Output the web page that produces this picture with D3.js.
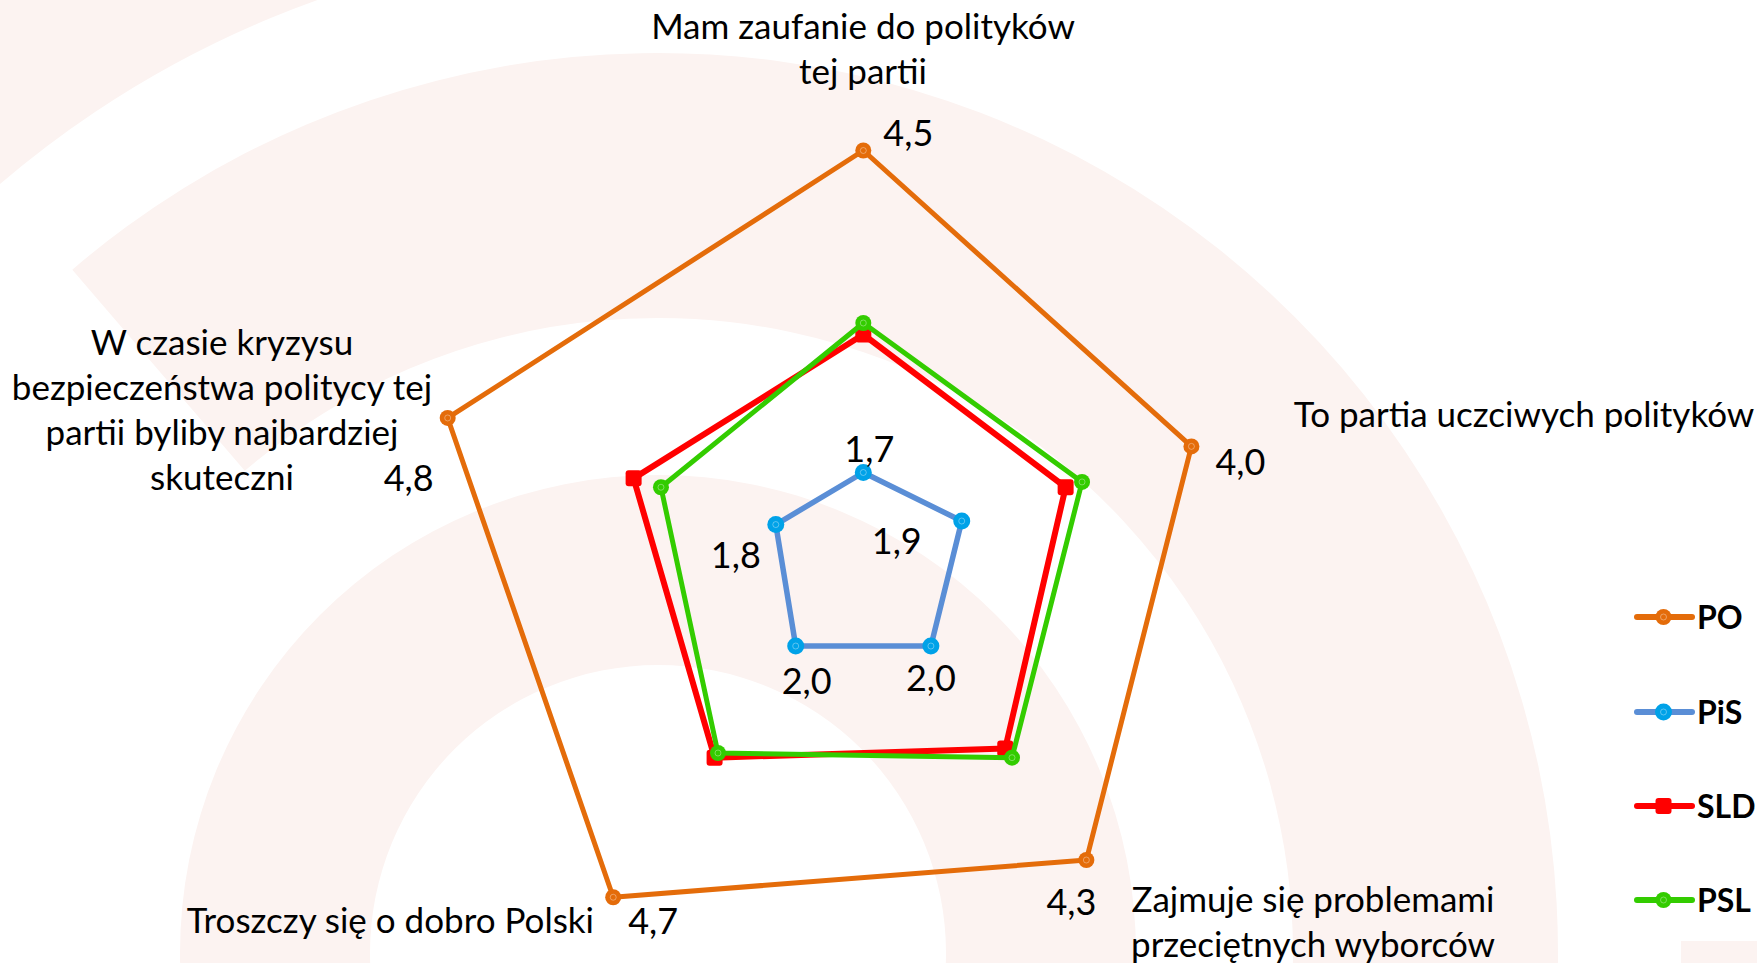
<!DOCTYPE html>
<html>
<head>
<meta charset="utf-8">
<script src="https://cdn.jsdelivr.net/npm/d3@7"></script>
<style>
    html, body { margin: 0; padding: 0; background: #fff; overflow: hidden; }
    svg { display: block; font-family: Lato, 'Open Sans', sans-serif; }
</style>
</head>
<body>
<svg id="chart" width="1757" height="963"></svg>
<script>
'use strict';

// Axes go clockwise from the top
const CATEGORIES = [
    ['Mam zaufanie do polityków', 'tej partii'],
    ['To partia uczciwych polityków'],
    ['Zajmuje się problemami', 'przeciętnych wyborców'],
    ['Troszczy się o dobro Polski'],
    ['W czasie kryzysu', 'bezpieczeństwa politycy tej', 'partii byliby najbardziej', 'skuteczni']
];
const SERIES = ['PO', 'PiS', 'SLD', 'PSL'];
const PO_VALUES = [4.5, 4.0, 4.3, 4.7, 4.8];
const PIS_VALUES = [1.7, 1.9, 2.0, 2.0, 1.8];
const SLD_VALUES = [2.9, 2.85, 3.1, 3.2, 3.1];
const PSL_VALUES = [3.0, 3.0, 3.2, 3.15, 2.85];
const AXIS_DOMAIN = [1, 5];
const LABELLED_SERIES = ['PO', 'PiS'];

const VALUES = {PO: PO_VALUES, PiS: PIS_VALUES, SLD: SLD_VALUES, PSL: PSL_VALUES};

const STYLES = {
    PO:  {line: '#e46c0a', marker: '#e46c0a', width: 5, shape: 'circle', size: 8},
    PiS: {line: '#5a8ed6', marker: '#00a2e8', width: 5.5, shape: 'circle', size: 8.5},
    SLD: {line: '#ff0000', marker: '#ff0000', width: 6, shape: 'square', size: 8},
    PSL: {line: '#33cc00', marker: '#33cc00', width: 5, shape: 'circle', size: 8}
};

const CENTER = {x: 863.3, y: 553};
const RADIUS = 460;
const FONT_SIZE = 35;
const LINE_HEIGHT = 45;

const CATEGORY_LABEL_POS = [
    {x: 863, y: 39, anchor: 'middle'},
    {x: 1524, y: 427, anchor: 'middle'},
    {x: 1313, y: 912, anchor: 'middle'},
    {x: 594, y: 933, anchor: 'end'},
    {x: 222, y: 355, anchor: 'middle'}
];

// label centre offset (dx) and baseline offset (dy) from its point
const VALUE_LABEL_OFFSETS = {
    PO:  [[45, -5], [49, 29], [-15, 55], [40, 37], [-39, 73]],
    PiS: [[6, -11], [-65, 33], [0, 45], [11, 48], [-40, 43]]
};

// pale watermark rings behind the chart
const RING_CENTER = {x: 658, y: 953};
const RINGS = [
    {inner: 1012, outer: 1500, start: -45, end: 0},
    {inner: 635, outer: 900, start: -40.6, end: 100},
    {inner: 288, outer: 478, start: -180, end: 180}
];
const CORNER_PATCH = {x: 1681, y: 941, w: 76, h: 22};

const LEGEND = {x1: 1637, x2: 1692, textX: 1697, ys: [617, 712, 806, 900]};

const plotChart = () => {
    const vis = d3.select('#chart');

    const r = d3.scaleLinear().domain(AXIS_DOMAIN).range([0, RADIUS]);
    const angle = i => i * 2 * Math.PI / CATEGORIES.length;
    const fmt = v => d3.format('.1f')(v).replace('.', ',');
    const rad = deg => deg * Math.PI / 180;

    // background rings
    const ringArc = d3.arc()
        .innerRadius(d => d.inner)
        .outerRadius(d => d.outer)
        .startAngle(d => rad(d.start))
        .endAngle(d => rad(d.end));

    const bg = vis.append('g');
    bg.append('g')
        .attr('transform', `translate(${RING_CENTER.x},${RING_CENTER.y})`)
        .selectAll('path')
        .data(RINGS)
        .enter().append('path')
        .attr('d', ringArc)
        .attr('fill', '#fcf3f1');
    bg.append('rect')
        .attr('x', CORNER_PATCH.x)
        .attr('y', CORNER_PATCH.y)
        .attr('width', CORNER_PATCH.w)
        .attr('height', CORNER_PATCH.h)
        .attr('fill', '#fcf3f1');

    const plot = vis.append('g')
        .attr('transform', `translate(${CENTER.x},${CENTER.y})`);

    const line = d3.lineRadial()
        .angle((d, i) => angle(i))
        .radius(d => r(d))
        .curve(d3.curveLinearClosed);

    const drawMarker = (sel, name, x, y) => {
        const st = STYLES[name];
        if (st.shape === 'square') {
            sel.append('rect')
                .attr('x', x - st.size)
                .attr('y', y - st.size)
                .attr('width', st.size * 2)
                .attr('height', st.size * 2)
                .attr('rx', 3)
                .attr('fill', st.marker);
        } else {
            sel.append('circle')
                .attr('cx', x)
                .attr('cy', y)
                .attr('r', st.size)
                .attr('fill', st.marker);
            sel.append('circle')
                .attr('cx', x)
                .attr('cy', y)
                .attr('r', 3)
                .attr('fill', 'none')
                .attr('stroke', 'rgba(255,255,255,0.35)')
                .attr('stroke-width', 1);
        }
    };

    SERIES.forEach(name => {
        const st = STYLES[name];
        const g = plot.append('g').attr('class', 'series');
        g.append('path')
            .datum(VALUES[name])
            .attr('d', line)
            .attr('fill', 'none')
            .attr('stroke', st.line)
            .attr('stroke-width', st.width)
            .attr('stroke-linejoin', 'round');
        VALUES[name].forEach((v, i) => {
            const [x, y] = d3.pointRadial(angle(i), r(v));
            drawMarker(g, name, x, y);
        });
    });

    // data labels
    LABELLED_SERIES.forEach(name => {
        plot.append('g')
            .selectAll('text')
            .data(VALUES[name])
            .enter().append('text')
            .attr('x', (v, i) => d3.pointRadial(angle(i), r(v))[0] + VALUE_LABEL_OFFSETS[name][i][0])
            .attr('y', (v, i) => d3.pointRadial(angle(i), r(v))[1] + VALUE_LABEL_OFFSETS[name][i][1])
            .attr('text-anchor', 'middle')
            .attr('font-size', 36)
            .attr('fill', '#000')
            .text(v => fmt(v));
    });

    // category labels
    vis.append('g')
        .selectAll('text')
        .data(CATEGORIES)
        .enter().append('text')
        .attr('x', (d, i) => CATEGORY_LABEL_POS[i].x)
        .attr('y', (d, i) => CATEGORY_LABEL_POS[i].y)
        .attr('text-anchor', (d, i) => CATEGORY_LABEL_POS[i].anchor)
        .attr('font-size', FONT_SIZE)
        .attr('fill', '#000')
        .each(function(d, i) {
            d3.select(this).selectAll('tspan')
                .data(d)
                .enter().append('tspan')
                .attr('x', CATEGORY_LABEL_POS[i].x)
                .attr('dy', (t, j) => j === 0 ? 0 : LINE_HEIGHT)
                .text(t => t);
        });

    // legend
    const legend = vis.append('g');
    SERIES.forEach((name, i) => {
        const st = STYLES[name];
        const y = LEGEND.ys[i];
        legend.append('line')
            .attr('x1', LEGEND.x1)
            .attr('x2', LEGEND.x2)
            .attr('y1', y)
            .attr('y2', y)
            .attr('stroke', st.line)
            .attr('stroke-width', 6)
            .attr('stroke-linecap', 'round');
        drawMarker(legend, name, (LEGEND.x1 + LEGEND.x2) / 2 - 1, y);
        legend.append('text')
            .attr('x', LEGEND.textX)
            .attr('y', y)
            .attr('dy', '0.36em')
            .attr('font-size', 32)
            .attr('font-weight', 'bold')
            .attr('fill', '#000')
            .text(name);
    });
};

plotChart();
</script>
</body>
</html>
